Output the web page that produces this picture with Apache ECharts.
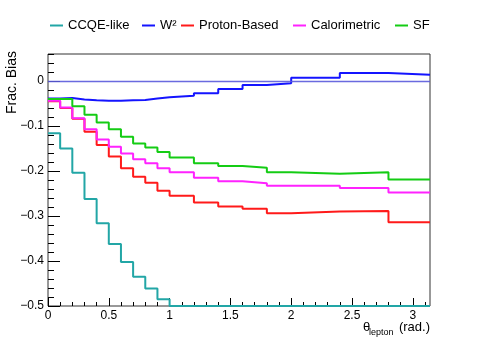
<!DOCTYPE html>
<html>
<head>
<meta charset="utf-8">
<script src="https://cdn.jsdelivr.net/npm/echarts@6/dist/echarts.min.js"></script>
<style>
  * { margin: 0; padding: 0; }
  body { background: #fff; }
  #chart { width: 478px; height: 344px; }
</style>
</head>
<body>
<div id="chart"></div>
<script>
// bin edges in theta_lepton (rad.)
const binEdges = [0, 0.1, 0.2, 0.3, 0.4, 0.5, 0.6, 0.7, 0.8, 0.9, 1.0,
  1.2, 1.4, 1.6, 1.8, 2.0, 2.4, 2.8, Math.PI];

const ccqeLike = [-0.116, -0.150, -0.204, -0.262, -0.316, -0.362, -0.402, -0.435, -0.461, -0.485,
  -0.5, -0.5, -0.5, -0.5, -0.5, -0.5, -0.5, -0.5];
const w2 = [-0.039, -0.038, -0.041, -0.043, -0.044, -0.044, -0.043, -0.042, -0.039, -0.036,
  -0.033, -0.027, -0.018, -0.009, -0.005, 0.007, 0.018, 0.014];
const protonBased = [-0.045, -0.060, -0.084, -0.113, -0.142, -0.168, -0.194, -0.213, -0.226, -0.244,
  -0.255, -0.270, -0.279, -0.284, -0.294, -0.290, -0.289, -0.314];
const calorimetric = [-0.044, -0.059, -0.083, -0.107, -0.130, -0.146, -0.161, -0.174, -0.183, -0.194,
  -0.203, -0.215, -0.223, -0.227, -0.233, -0.233, -0.238, -0.248];
const sf = [-0.040, -0.040, -0.056, -0.075, -0.092, -0.107, -0.124, -0.139, -0.148, -0.158,
  -0.170, -0.183, -0.189, -0.193, -0.203, -0.206, -0.203, -0.219];

const seriesNames = ['CCQE-like', 'W\u00b2', 'Proton-Based', 'Calorimetric', 'SF'];
const xMajorTicks = [0, 0.5, 1, 1.5, 2, 2.5, 3];
const yMajorTicks = [-0.5, -0.4, -0.3, -0.2, -0.1, 0];

const FONT = "'Liberation Sans', Arial, Helvetica, sans-serif";
const colors = ['#22a6a6', '#1414ff', '#ff1a1a', '#ff22ff', '#14cc14'];
const legendLeft = [50, 142, 181, 293, 395];

// minor ticks (0.1 on x, 0.02 on y)
const xMinor = [];
for (let i = 1; i <= 31; i++) {
  if (i % 5 !== 0) xMinor.push(i / 10);
}
const yMinor = [];
for (let i = -24; i <= 3; i++) {
  if (i % 5 !== 0) yMinor.push(Math.round(i * 2) / 100);
}

// histogram outline: one point per bin low edge, plus the last high edge
function histPoints(vals) {
  const pts = vals.map((v, i) => [binEdges[i], v]);
  pts.push([binEdges[binEdges.length - 1], vals[vals.length - 1]]);
  return pts;
}

const allVals = [ccqeLike, w2, protonBased, calorimetric, sf];

const chart = echarts.init(document.getElementById('chart'), null, { renderer: 'canvas' });

const series = allVals.map((vals, i) => ({
  name: seriesNames[i],
  type: 'line',
  step: 'end',
  symbol: 'none',
  clip: false,
  data: histPoints(vals),
  lineStyle: { color: colors[i], width: 2 },
  itemStyle: { color: colors[i] },
  z: 3 + i
}));

// y = 0 reference line
series[1].markLine = {
  silent: true,
  symbol: ['none', 'none'],
  label: { show: false },
  lineStyle: { color: '#5a5adc', width: 1.4, type: 'solid', opacity: 0.9 },
  data: [{ yAxis: 0 }]
};

const legends = seriesNames.map((n, i) => ({
  data: [n],
  left: legendLeft[i],
  top: 19,
  padding: 0,
  icon: 'rect',
  itemWidth: 13,
  itemHeight: 2,
  itemGap: 0,
  selectedMode: false,
  textStyle: { fontFamily: FONT, fontSize: 13, color: '#000' }
}));

const gridBox = { left: 48, top: 54, right: 48, bottom: 38 };
const noLine = { show: false, onZero: false };

const option = {
  animation: false,
  backgroundColor: '#fff',
  legend: legends,
  grid: [
    Object.assign({ show: true, borderColor: '#333', borderWidth: 1, backgroundColor: 'transparent' }, gridBox),
    Object.assign({ show: false }, gridBox)
  ],
  xAxis: [
    {
      type: 'value', gridIndex: 0, min: 0, max: Math.PI, position: 'bottom',
      axisLine: noLine,
      splitLine: { show: false },
      axisTick: { show: true, inside: true, length: 8, customValues: xMajorTicks, lineStyle: { color: '#000' } },
      axisLabel: {
        customValues: xMajorTicks, margin: 4,
        fontFamily: FONT, fontSize: 12, color: '#000'
      }
    },
    {
      type: 'value', gridIndex: 1, min: 0, max: Math.PI, position: 'bottom',
      axisLine: noLine,
      splitLine: { show: false },
      axisTick: { show: true, inside: true, length: 4, customValues: xMinor, lineStyle: { color: '#000' } },
      axisLabel: { show: false }
    }
  ],
  yAxis: [
    {
      type: 'value', gridIndex: 0, min: -0.5, max: 0.06, position: 'left',
      axisLine: noLine,
      splitLine: { show: false },
      axisTick: { show: true, inside: true, length: 12, customValues: yMajorTicks, lineStyle: { color: '#000' } },
      axisLabel: {
        customValues: yMajorTicks, margin: 4,
        fontFamily: FONT, fontSize: 12, color: '#000',
        formatter: (v) => String(Math.round(v * 10) / 10).replace('-', '\u2212')
      }
    },
    {
      type: 'value', gridIndex: 1, min: -0.5, max: 0.06, position: 'left',
      axisLine: noLine,
      splitLine: { show: false },
      axisTick: { show: true, inside: true, length: 6, customValues: yMinor, lineStyle: { color: '#000' } },
      axisLabel: { show: false }
    }
  ],
  graphic: [
    {
      type: 'text', x: 12, y: 51, rotation: Math.PI / 2,
      style: { text: 'Frac. Bias', fontFamily: FONT, fontSize: 14, fill: '#000', align: 'right', verticalAlign: 'middle' }
    },
    {
      type: 'text', x: 363, y: 327,
      style: { text: '\u03b8', fontFamily: FONT, fontSize: 13, fill: '#000', align: 'left', verticalAlign: 'middle' }
    },
    {
      type: 'text', x: 369, y: 333,
      style: { text: 'lepton', fontFamily: FONT, fontSize: 9, fill: '#000', align: 'left', verticalAlign: 'middle' }
    },
    {
      type: 'text', x: 430, y: 327,
      style: { text: '(rad.)', fontFamily: FONT, fontSize: 13, fill: '#000', align: 'right', verticalAlign: 'middle' }
    }
  ],
  series: series
};

chart.setOption(option);
</script>
</body>
</html>
